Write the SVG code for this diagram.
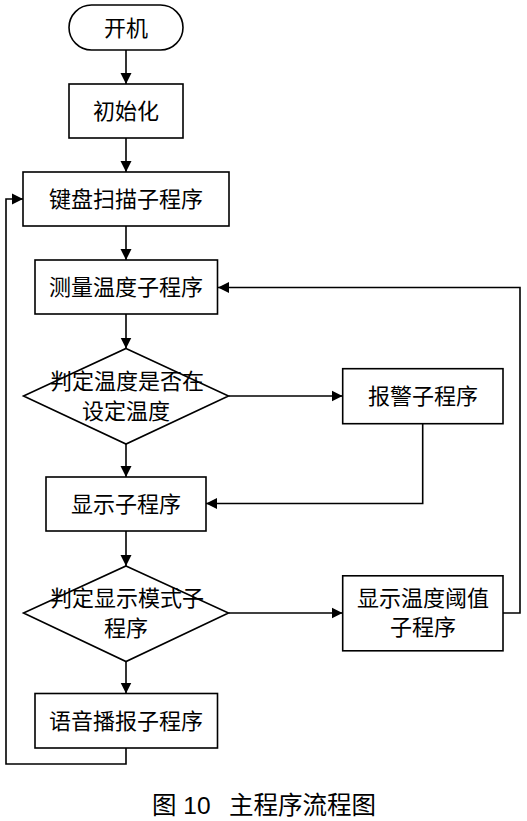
<svg xmlns="http://www.w3.org/2000/svg" width="527" height="821" viewBox="0 0 527 821">
<style>
.s{fill:#fff;stroke:#000;stroke-width:1.6}
.c{fill:none;stroke:#000;stroke-width:1.6}
.t{font-family:"Liberation Sans","Noto Sans CJK SC",sans-serif;font-size:22px;fill:#000;text-anchor:middle}
.cap{font-family:"Liberation Sans","Noto Sans CJK SC",sans-serif;font-size:24.5px;fill:#000}
</style>
<defs>
<marker id="ah" markerUnits="userSpaceOnUse" markerWidth="12" markerHeight="12" refX="11" refY="6" orient="auto">
<path d="M0,0.5 L11,6 L0,11.5 Z" fill="#000"/>
</marker>
</defs>
<g id="connectors">
<path class="c" d="M126,50 V84" marker-end="url(#ah)"/>
<path class="c" d="M126,138 V172" marker-end="url(#ah)"/>
<path class="c" d="M126,226 V260" marker-end="url(#ah)"/>
<path class="c" d="M126,314 V348.5" marker-end="url(#ah)"/>
<path class="c" d="M126,444 V477" marker-end="url(#ah)"/>
<path class="c" d="M126,531 V566" marker-end="url(#ah)"/>
<path class="c" d="M126,661.5 V693.5" marker-end="url(#ah)"/>
<path class="c" d="M228.5,396 H342.5" marker-end="url(#ah)"/>
<path class="c" d="M422.7,424 V503.5 H206" marker-end="url(#ah)"/>
<path class="c" d="M228.5,613 H342.5" marker-end="url(#ah)"/>
<path class="c" d="M503,613 H520 V287.5 H218" marker-end="url(#ah)"/>
<path class="c" d="M126,748 V764 H6 V199 H23" marker-end="url(#ah)"/>
</g>
<g id="start">
<rect class="s" x="69" y="5" width="114" height="45" rx="22.5" ry="22.5"/>
<text class="t" x="126" y="36">开机</text>
</g>
<g id="init">
<rect class="s" x="69" y="84" width="114" height="54"/>
<text class="t" x="126" y="119">初始化</text>
</g>
<g id="keyscan">
<rect class="s" x="23" y="172" width="206" height="54"/>
<text class="t" x="126" y="207">键盘扫描子程序</text>
</g>
<g id="measure">
<rect class="s" x="35" y="260" width="182.5" height="54"/>
<text class="t" x="126" y="295">测量温度子程序</text>
</g>
<g id="judge1">
<polygon class="s" points="126,348.5 228.5,396 126,444 23.5,396"/>
<text class="t" x="127" y="389">判定温度是否在</text>
<text class="t" x="126" y="419">设定温度</text>
</g>
<g id="alarm">
<rect class="s" x="342.7" y="368.7" width="160.3" height="55"/>
<text class="t" x="423" y="404">报警子程序</text>
</g>
<g id="display">
<rect class="s" x="46" y="477" width="160" height="54"/>
<text class="t" x="126" y="512">显示子程序</text>
</g>
<g id="judge2">
<polygon class="s" points="126,566 228.5,613 126,661.5 23.5,613"/>
<text class="t" x="127" y="605.5">判定显示模式子</text>
<text class="t" x="126" y="636">程序</text>
</g>
<g id="threshold">
<rect class="s" x="342.7" y="575.8" width="160.3" height="75"/>
<text class="t" x="423" y="605.5">显示温度阈值</text>
<text class="t" x="423" y="635">子程序</text>
</g>
<g id="voice">
<rect class="s" x="35" y="693.5" width="182.5" height="54.5"/>
<text class="t" x="126" y="729">语音播报子程序</text>
</g>
<g id="caption">
<text class="cap" x="152" y="814">图 10</text>
<text class="cap" x="229" y="814">主程序流程图</text>
</g>
</svg>
